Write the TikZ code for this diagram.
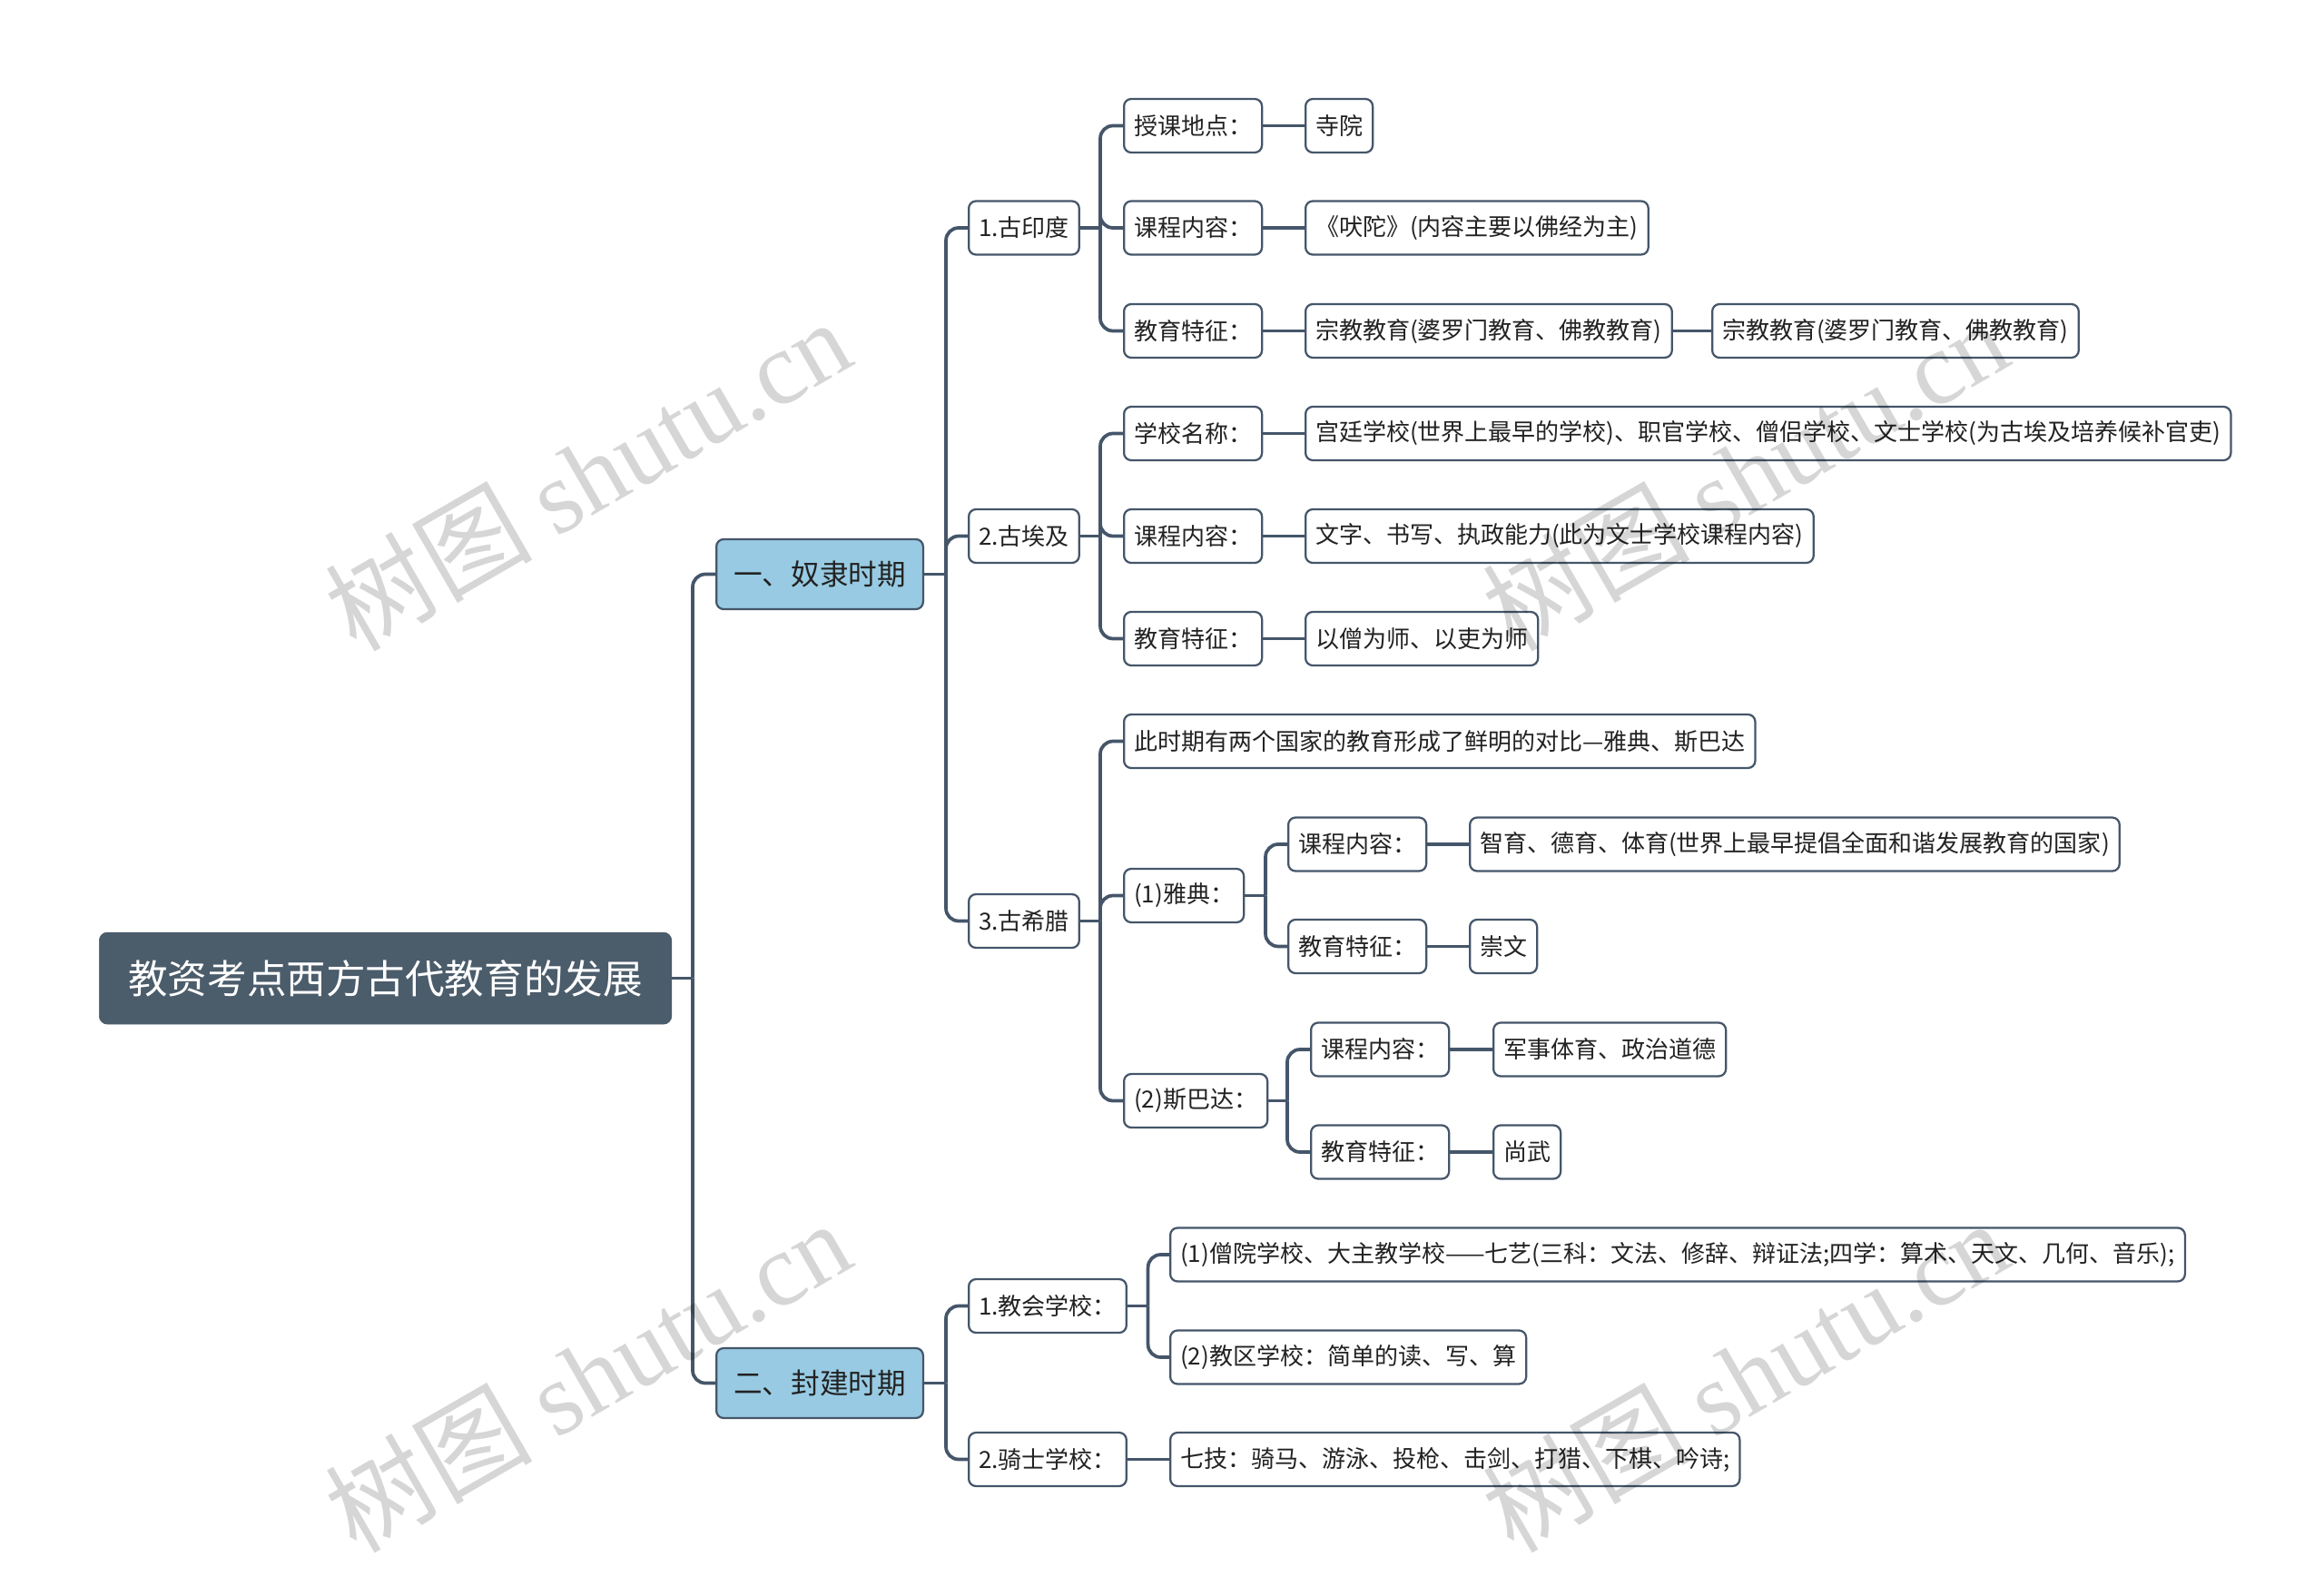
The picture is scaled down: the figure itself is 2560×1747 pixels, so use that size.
\documentclass[tikz,border=0pt]{standalone}
\usepackage{fontspec}
\setmainfont{Noto Sans CJK SC}
\newfontfamily\wmfont{Liberation Serif}
\usetikzlibrary{positioning, calc}
\definecolor{slate}{HTML}{45566A}
\definecolor{rootfill}{HTML}{4B5C6B}
\definecolor{skyfill}{HTML}{98CBE3}
\definecolor{inkdark}{HTML}{222222}

\begin{document}
\begin{tikzpicture}[
  x=0.02cm, y=-0.02cm,
  rootbox/.style={rounded corners=0.18cm, fill=rootfill, draw=rootfill, text=white,
                  font=\fontsize{24.8pt}{28pt}\selectfont, minimum height=2.02cm,
                  inner xsep=0.64cm, inner ysep=0pt, anchor=west},
  topic/.style={rounded corners=0.16cm, fill=skyfill, draw=slate, line width=0.045cm,
                text=inkdark, font=\fontsize{18pt}{21pt}\selectfont, minimum height=1.54cm,
                inner xsep=0.38cm, inner ysep=0pt, anchor=west},
  sub/.style={rounded corners=0.16cm, fill=white, draw=slate, line width=0.045cm,
              text=inkdark, font=\fontsize{14.8pt}{17pt}\selectfont, minimum height=1.18cm,
              inner xsep=0.22cm, inner ysep=0pt, anchor=west},
  conn/.style={draw=slate, line width=0.075cm, rounded corners=0.28cm},
  wm/.style={rotate=30, text=black, text opacity=0.16,
             font=\fontsize{65pt}{70pt}\selectfont},
]

\useasboundingbox (0,0) rectangle (2560,1747);

% Root and the two periods
\node[rootbox] (root) at (109,1077.6) {教资考点西方古代教育的发展};
\node[topic] (nuli) at (788,632.5) {一、奴隶时期};
\node[topic] (fengjian) at (788,1523.5) {二、封建时期};

% === Slave period: countries ===
\node[sub] (yindu) at (1066,251) {1.古印度};
\node[sub] (aiji) at (1066,590.5) {2.古埃及};
\node[sub] (xila) at (1066,1014.5) {3.古希腊};

% India
\node[sub] (yd-a) at (1237,138.5) {授课地点：};
\node[sub] (yd-b) at (1237,251) {课程内容：};
\node[sub] (yd-c) at (1237,364.5) {教育特征：};
\node[sub] (yd-a1) at (1437,138.5) {寺院};
\node[sub] (yd-b1) at (1437,251) {《吠陀》(内容主要以佛经为主)};
\node[sub] (yd-c1) at (1437,364.5) {宗教教育(婆罗门教育、佛教教育)};
\node[sub] (yd-c2) at (1885,364.5) {宗教教育(婆罗门教育、佛教教育)};

% Egypt
\node[sub] (aj-a) at (1237,477.5) {学校名称：};
\node[sub] (aj-b) at (1237,590.5) {课程内容：};
\node[sub] (aj-c) at (1237,703.5) {教育特征：};
\node[sub] (aj-a1) at (1437,477.5) {宫廷学校(世界上最早的学校)、职官学校、僧侣学校、文士学校(为古埃及培养候补官吏)};
\node[sub] (aj-b1) at (1437,590.5) {文字、书写、执政能力(此为文士学校课程内容)};
\node[sub] (aj-c1) at (1437,703.5) {以僧为师、以吏为师};

% Greece
\node[sub] (xl-a) at (1237,816.5) {此时期有两个国家的教育形成了鲜明的对比—雅典、斯巴达};
\node[sub] (yadian) at (1237,986.5) {(1)雅典：};
\node[sub] (sbd) at (1237,1212.5) {(2)斯巴达：};
\node[sub] (yd-kc) at (1418,930) {课程内容：};
\node[sub] (yd-tz) at (1418,1042.5) {教育特征：};
\node[sub] (yd-kc1) at (1618,930) {智育、德育、体育(世界上最早提倡全面和谐发展教育的国家)};
\node[sub] (yd-tz1) at (1618,1042.5) {崇文};
\node[sub] (sb-kc) at (1443,1156) {课程内容：};
\node[sub] (sb-tz) at (1443,1269) {教育特征：};
\node[sub] (sb-kc1) at (1644,1156) {军事体育、政治道德};
\node[sub] (sb-tz1) at (1644,1269) {尚武};

% === Feudal period ===
\node[sub] (jiaohui) at (1066,1438.5) {1.教会学校：};
\node[sub] (qishi) at (1066,1607.5) {2.骑士学校：};
\node[sub] (jh-a) at (1288,1382) {(1)僧院学校、大主教学校——七艺(三科：文法、修辞、辩证法;四学：算术、天文、几何、音乐);};
\node[sub] (jh-b) at (1288,1495) {(2)教区学校：简单的读、写、算};
\node[sub] (qs-a) at (1288,1607.5) {七技：骑马、游泳、投枪、击剑、打猎、下棋、吟诗;};

% Junctions of the branch lines
\coordinate (j-root) at (763,1077.6);
\coordinate (j-nuli) at (1042,632.5);
\coordinate (j-feng) at (1042,1523.5);
\coordinate (j-yindu) at (1212,251);
\coordinate (j-aiji) at (1212,590.5);
\coordinate (j-xila) at (1212,1014.5);
\coordinate (j-yadian) at (1394,986.5);
\coordinate (j-sbd) at (1418,1212.5);
\coordinate (j-jh) at (1264.6,1438.5);

% Connectors
\draw[conn] (root.east) -- (j-root);
\draw[conn] (j-root) |- (nuli.west);
\draw[conn] (j-root) |- (fengjian.west);

\draw[conn] (nuli.east) -- (j-nuli);
\draw[conn] (j-nuli) |- (yindu.west);
\draw[conn] (j-nuli) |- (aiji.west);
\draw[conn] (j-nuli) |- (xila.west);

\draw[conn] (yindu.east) -- (j-yindu);
\draw[conn] (j-yindu) |- (yd-a.west);
\draw[conn] (j-yindu) |- (yd-b.west);
\draw[conn] (j-yindu) |- (yd-c.west);
\draw[conn] (yd-a.east) -- (yd-a1.west);
\draw[conn] (yd-b.east) -- (yd-b1.west);
\draw[conn] (yd-c.east) -- (yd-c1.west);
\draw[conn] (yd-c1.east) -- (yd-c2.west);

\draw[conn] (aiji.east) -- (j-aiji);
\draw[conn] (j-aiji) |- (aj-a.west);
\draw[conn] (j-aiji) |- (aj-b.west);
\draw[conn] (j-aiji) |- (aj-c.west);
\draw[conn] (aj-a.east) -- (aj-a1.west);
\draw[conn] (aj-b.east) -- (aj-b1.west);
\draw[conn] (aj-c.east) -- (aj-c1.west);

\draw[conn] (xila.east) -- (j-xila);
\draw[conn] (j-xila) |- (xl-a.west);
\draw[conn] (j-xila) |- (yadian.west);
\draw[conn] (j-xila) |- (sbd.west);
\draw[conn] (yadian.east) -- (j-yadian);
\draw[conn] (j-yadian) |- (yd-kc.west);
\draw[conn] (j-yadian) |- (yd-tz.west);
\draw[conn] (yd-kc.east) -- (yd-kc1.west);
\draw[conn] (yd-tz.east) -- (yd-tz1.west);
\draw[conn] (sbd.east) -- (j-sbd);
\draw[conn] (j-sbd) |- (sb-kc.west);
\draw[conn] (j-sbd) |- (sb-tz.west);
\draw[conn] (sb-kc.east) -- (sb-kc1.west);
\draw[conn] (sb-tz.east) -- (sb-tz1.west);

\draw[conn] (fengjian.east) -- (j-feng);
\draw[conn] (j-feng) |- (jiaohui.west);
\draw[conn] (j-feng) |- (qishi.west);
\draw[conn] (jiaohui.east) -- (j-jh);
\draw[conn] (j-jh) |- (jh-a.west);
\draw[conn] (j-jh) |- (jh-b.west);
\draw[conn] (qishi.east) -- (qs-a.west);

% Watermarks
\node[wm] (wm1) at (647,522) {树图 {\wmfont shutu.cn}};
\node[wm] (wm2) at (1922,522) {树图 {\wmfont shutu.cn}};
\node[wm] (wm3) at (647,1515) {树图 {\wmfont shutu.cn}};
\node[wm] (wm4) at (1922,1515) {树图 {\wmfont shutu.cn}};

\end{tikzpicture}
\end{document}
